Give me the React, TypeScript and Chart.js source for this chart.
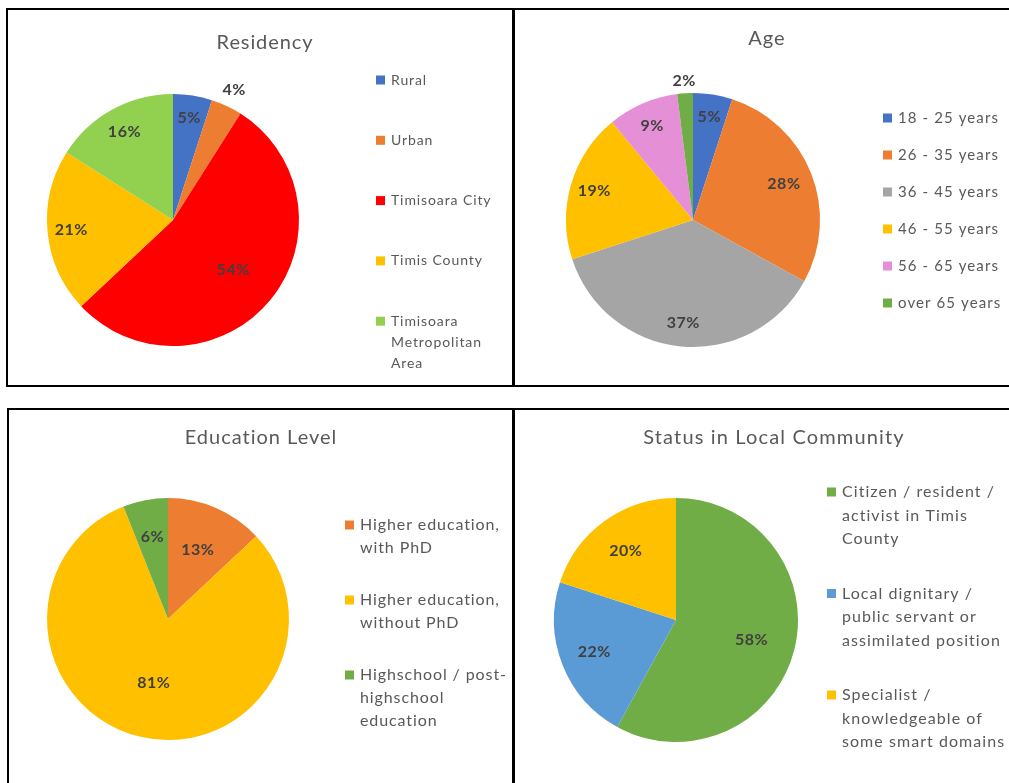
import React, { useEffect, useRef } from "react";
import { Chart, registerables } from "chart.js";

Chart.register(...registerables);

// ---------- DATA ----------
const residencyCategories: string[][] = [["Rural"], ["Urban"], ["Timisoara City"], ["Timis County"], ["Timisoara", "Metropolitan", "Area"]];
const residencyValues = [5, 4, 54, 21, 16];
const residencyColors = ["#4472C4", "#ED7D31", "#FF0000", "#FFC000", "#92D050"];

const ageCategories: string[][] = [["18 - 25 years"], ["26 - 35 years"], ["36 - 45 years"], ["46 - 55 years"], ["56 - 65 years"], ["over 65 years"]];
const ageValues = [5, 28, 37, 19, 9, 2];
const ageColors = ["#4472C4", "#ED7D31", "#A5A5A5", "#FFC000", "#E58FD6", "#70AD47"];

const educationCategories: string[][] = [["Higher education,", "with PhD"], ["Higher education,", "without PhD"], ["Highschool / post-", "highschool", "education"]];
const educationValues = [13, 81, 6];
const educationColors = ["#ED7D31", "#FFC000", "#70AD47"];

const statusCategories: string[][] = [["Citizen / resident /", "activist in Timis", "County"], ["Local dignitary /", "public servant or", "assimilated position"], ["Specialist /", "knowledgeable of", "some smart domains"]];
const statusValues = [58, 22, 20];
const statusColors = ["#70AD47", "#5B9BD5", "#FFC000"];

const W = 1009;
const H = 783;
const FONT = "Lato, 'Open Sans', sans-serif";

type Spec = {
  title: string;
  titleX: number;
  titleY: number;
  titleSpacing: number;
  cats: string[][];
  values: number[];
  colors: string[];
  cx: number;
  cy: number;
  r: number;
  labelFrac: number[];
  legendX: number;
  legendY: number;
  legendStep: number;
  legendLine: number;
  legendSize: number;
  legendSpacing: number;
};

const specs: Spec[] = [
  {
    title: "Residency", titleX: 265, titleY: 43, titleSpacing: 0.9,
    cats: residencyCategories, values: residencyValues, colors: residencyColors,
    cx: 173, cy: 220, r: 126,
    labelFrac: [0.82, 1.14, 0.62, 0.81, 0.8],
    legendX: 376, legendY: 80, legendStep: 60.3, legendLine: 21, legendSize: 14, legendSpacing: 0.9,
  },
  {
    title: "Age", titleX: 767, titleY: 39, titleSpacing: 1,
    cats: ageCategories, values: ageValues, colors: ageColors,
    cx: 693, cy: 220, r: 127,
    labelFrac: [0.82, 0.77, 0.81, 0.81, 0.81, 1.1],
    legendX: 883, legendY: 118, legendStep: 37, legendLine: 21, legendSize: 15, legendSpacing: 1.1,
  },
  {
    title: "Education Level", titleX: 261, titleY: 438, titleSpacing: 1,
    cats: educationCategories, values: educationValues, colors: educationColors,
    cx: 168, cy: 619, r: 121,
    labelFrac: [0.62, 0.54, 0.69],
    legendX: 345, legendY: 525, legendStep: 75, legendLine: 23, legendSize: 16, legendSpacing: 0.9,
  },
  {
    title: "Status in Local Community", titleX: 774, titleY: 438, titleSpacing: 1.15,
    cats: statusCategories, values: statusValues, colors: statusColors,
    cx: 676, cy: 620, r: 122,
    labelFrac: [0.64, 0.72, 0.7],
    legendX: 827, legendY: 492, legendStep: 101.5, legendLine: 23.5, legendSize: 16, legendSpacing: 1.05,
  },
];

function makeDecor(spec: Spec) {
  return {
    id: "decor",
    afterDatasetsDraw(chart: any) {
      const ctx = chart.ctx as any;
      ctx.save();
      // title
      ctx.fillStyle = "#595959";
      ctx.font = `20px ${FONT}`;
      ctx.letterSpacing = `${spec.titleSpacing}px`;
      ctx.textAlign = "center";
      ctx.textBaseline = "middle";
      ctx.fillText(spec.title, spec.titleX, spec.titleY);
      // data labels from arc geometry
      const meta = chart.getDatasetMeta(0);
      const total = spec.values.reduce((a, b) => a + b, 0);
      ctx.font = `bold 16px ${FONT}`;
      ctx.letterSpacing = "0.5px";
      ctx.fillStyle = "#404040";
      meta.data.forEach((arc: any, i: number) => {
        const p = arc.getProps(["x", "y", "startAngle", "endAngle", "outerRadius"], true);
        const mid = (p.startAngle + p.endAngle) / 2;
        const rr = p.outerRadius * spec.labelFrac[i];
        const lx = p.x + Math.cos(mid) * rr;
        const ly = p.y + Math.sin(mid) * rr;
        const pct = Math.round((spec.values[i] / total) * 100);
        ctx.fillText(pct + "%", lx, ly);
      });
      // legend
      ctx.textAlign = "left";
      ctx.font = `${spec.legendSize}px ${FONT}`;
      ctx.letterSpacing = `${spec.legendSpacing}px`;
      spec.cats.forEach((lines, i) => {
        const y0 = spec.legendY + i * spec.legendStep;
        ctx.fillStyle = spec.colors[i];
        ctx.fillRect(spec.legendX, y0 - 4.5, 9, 9);
        ctx.fillStyle = "#595959";
        lines.forEach((ln, j) => {
          ctx.fillText(ln, spec.legendX + 15, y0 + j * spec.legendLine);
        });
      });
      ctx.restore();
    },
  };
}

function PieCanvas({ spec }: { spec: Spec }) {
  const ref = useRef<HTMLCanvasElement>(null);
  useEffect(() => {
    if (!ref.current) return;
    const chart = new Chart(ref.current, {
      type: "pie",
      data: {
        labels: spec.cats.map((c) => c.join(" ")),
        datasets: [
          {
            data: spec.values,
            backgroundColor: spec.colors,
            borderWidth: 0,
          },
        ],
      },
      options: {
        animation: false,
        responsive: false,
        events: [],
        layout: {
          padding: {
            left: spec.cx - spec.r,
            top: spec.cy - spec.r,
            right: W - spec.cx - spec.r,
            bottom: H - spec.cy - spec.r,
          },
        },
        plugins: {
          legend: { display: false },
          title: { display: false },
          tooltip: { enabled: false },
        },
      },
      plugins: [makeDecor(spec)],
    });
    return () => chart.destroy();
  }, [spec]);
  return (
    <canvas
      ref={ref}
      width={W}
      height={H}
      style={{ position: "absolute", left: 0, top: 0, width: W, height: H }}
    />
  );
}

const line = (left: number, top: number, width: number, height: number) => (
  <div style={{ position: "absolute", left, top, width, height, background: "#000" }} />
);

export default function App() {
  return (
    <div style={{ position: "absolute", left: 0, top: 0, width: W, height: H, background: "#fff", overflow: "hidden" }}>
      {line(6, 8, W - 6, 2)}
      {line(6, 8, 2, 379)}
      {line(512, 8, 3, 379)}
      {line(6, 385, W - 6, 2)}
      {line(7, 408, W - 7, 2)}
      {line(7, 408, 2, H - 408)}
      {line(512, 408, 3, H - 408)}
      {specs.map((s, i) => (
        <PieCanvas key={i} spec={s} />
      ))}
    </div>
  );
}
